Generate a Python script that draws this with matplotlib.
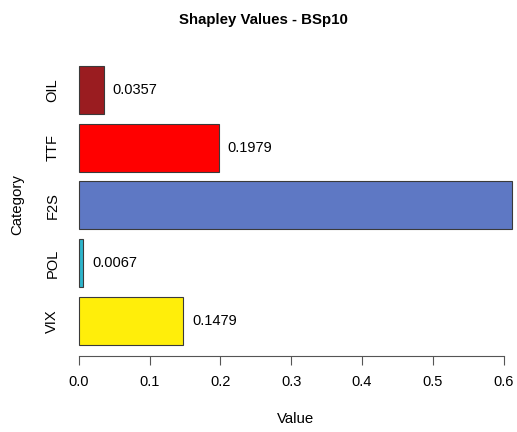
import matplotlib
matplotlib.use('Agg')
import matplotlib.pyplot as plt

categories = ['VIX', 'POL', 'F2S', 'TTF', 'OIL']
values = [0.1479, 0.0067, 0.6118, 0.1979, 0.0357]
colors = ['#FFEE0A', '#2DB5CC', '#5E78C4', '#FF0000', '#9A1C20']
xticks = [0.0, 0.1, 0.2, 0.3, 0.4, 0.5, 0.6]

plt.rcParams['font.family'] = ['Liberation Sans', 'DejaVu Sans']

W, H = 517, 432
fig = plt.figure(figsize=(W / 100, H / 100), dpi=100)
ax = fig.add_axes([78.7 / W, (H - 356) / H, (W - 78.7) / W, 300 / H])
xmax = (W - 78.7) / 708.3

pos = range(len(categories))
ax.barh(pos, values, height=1 / 1.2, color=colors, edgecolor='#3a3a3a',
        linewidth=0.8, clip_on=False)
# value labels (the one for the long bar falls off the plot, as in R)
for y, v in zip(pos, values):
    if v + 0.012 < xmax:
        ax.text(v + 0.012, y, '%.4f' % v, va='center', ha='left',
                fontsize=10.5)

ax.set_xlim(0, xmax)
ax.set_ylim(-0.612, 4.588)
for s in ['top', 'right', 'left']:
    ax.spines[s].set_visible(False)
ax.spines['bottom'].set_bounds(0, 0.6)
ax.spines['bottom'].set_color('#555555')
ax.set_xticks(xticks)
ax.set_xticklabels(['%.1f' % t for t in xticks], fontsize=10.5)
ax.tick_params(axis='x', length=6.5, width=0.8, color='#555555', pad=7)
ax.set_yticks(list(pos))
ax.set_yticklabels(categories, rotation=90, va='center', fontsize=10.5)
ax.tick_params(axis='y', length=0, pad=14)

fig.text(263 / W, 1 - 20 / H, 'Shapley Values - BSp10', ha='center',
         va='center', fontsize=10.8, fontweight='bold')
fig.text(17 / W, 1 - 205 / H, 'Category', rotation=90, ha='center',
         va='center', fontsize=10.8)
fig.text(296 / W, 1 - 419 / H, 'Value', ha='center', va='center',
         fontsize=10.8)

fig.savefig('out.png', dpi=100)
